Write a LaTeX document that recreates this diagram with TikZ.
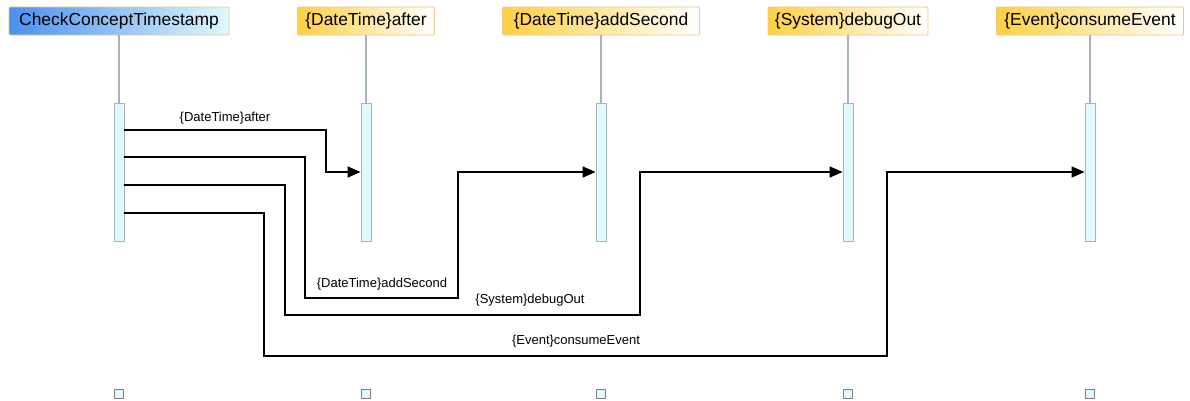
\documentclass[tikz,border=0pt]{standalone}
\usepackage{fontspec}
\setmainfont{Liberation Sans}
\usetikzlibrary{arrows.meta}
\definecolor{actfill}{HTML}{E0F8FF}
\definecolor{lifegray}{HTML}{A8B4BC}
\definecolor{hdrborder}{HTML}{E8C890}
\definecolor{bluel}{HTML}{4A90F0}
\definecolor{bluer}{HTML}{E0F8FF}
\definecolor{yell}{HTML}{FFD040}
\tikzset{
  hdr/.style={draw=hdrborder, line width=0.8pt, rounded corners=1pt, shading=axis, shading angle=90, font=\fontsize{17.4}{19}\selectfont, minimum height=28pt, inner xsep=6pt, anchor=center},
  hdrblue/.style={hdr, left color=bluel, right color=bluer},
  hdryel/.style={hdr, left color=yell, right color=white},
  life/.style={draw=lifegray, line width=1.2pt},
  act/.style={draw=lifegray, fill=actfill, line width=0.8pt},
  endbox/.style={draw=gray, fill=actfill, line width=0.8pt, minimum width=9pt, minimum height=9pt, inner sep=0pt},
  msg/.style={draw=black, line width=1.4pt, -{Triangle[length=13pt,width=11pt]}},
  lbl/.style={font=\fontsize{13}{15}\selectfont, inner sep=0pt}
}
\begin{document}
\begin{tikzpicture}[x=1pt,y=-1pt]
\useasboundingbox[fill=white] (0,0) rectangle (1190,400);
% headers
\node[hdrblue, minimum width=220pt] (h0) at (119,21) {CheckConceptTimestamp};
\node[hdryel, minimum width=137pt] (h1) at (366,21) {\{DateTime\}after};
\node[hdryel, minimum width=197pt] (h2) at (601,21) {\{DateTime\}addSecond};
\node[hdryel, minimum width=160pt] (h3) at (848,21) {\{System\}debugOut};
\node[hdryel, minimum width=187pt] (h4) at (1090,21) {\{Event\}consumeEvent};
% activations
\foreach \i/\x in {0/119,1/366,2/601,3/848,4/1090}{
  \node[act, minimum width=10pt, minimum height=138pt, inner sep=0pt] (a\i) at (\x,172) {};
  \draw[life] (h\i.south) -- (a\i.north);
  \node[endbox] (e\i) at (\x,393.5) {};
}
% messages
\coordinate (s1) at (124,130);
\coordinate (s2) at (124,157);
\coordinate (s3) at (124,185);
\coordinate (s4) at (124,213);
\draw[msg] (s1) -- (326,130) -- (326,172) -- (a1.west |- 0,172);
\draw[msg] (s2) -- (305,157) -- (305,298) -- (458,298) -- (458,172) -- (a2.west |- 0,172);
\draw[msg] (s3) -- (285,185) -- (285,315) -- (640,315) -- (640,172) -- (a3.west |- 0,172);
\draw[msg] (s4) -- (264,213) -- (264,356) -- (887,356) -- (887,172) -- (a4.west |- 0,172);
% labels
\node[lbl] (l1) at (225,118) {\{DateTime\}after};
\node[lbl] (l2) at (382,284) {\{DateTime\}addSecond};
\node[lbl] (l3) at (530,300) {\{System\}debugOut};
\node[lbl] (l4) at (576,341) {\{Event\}consumeEvent};
\end{tikzpicture}
\end{document}
